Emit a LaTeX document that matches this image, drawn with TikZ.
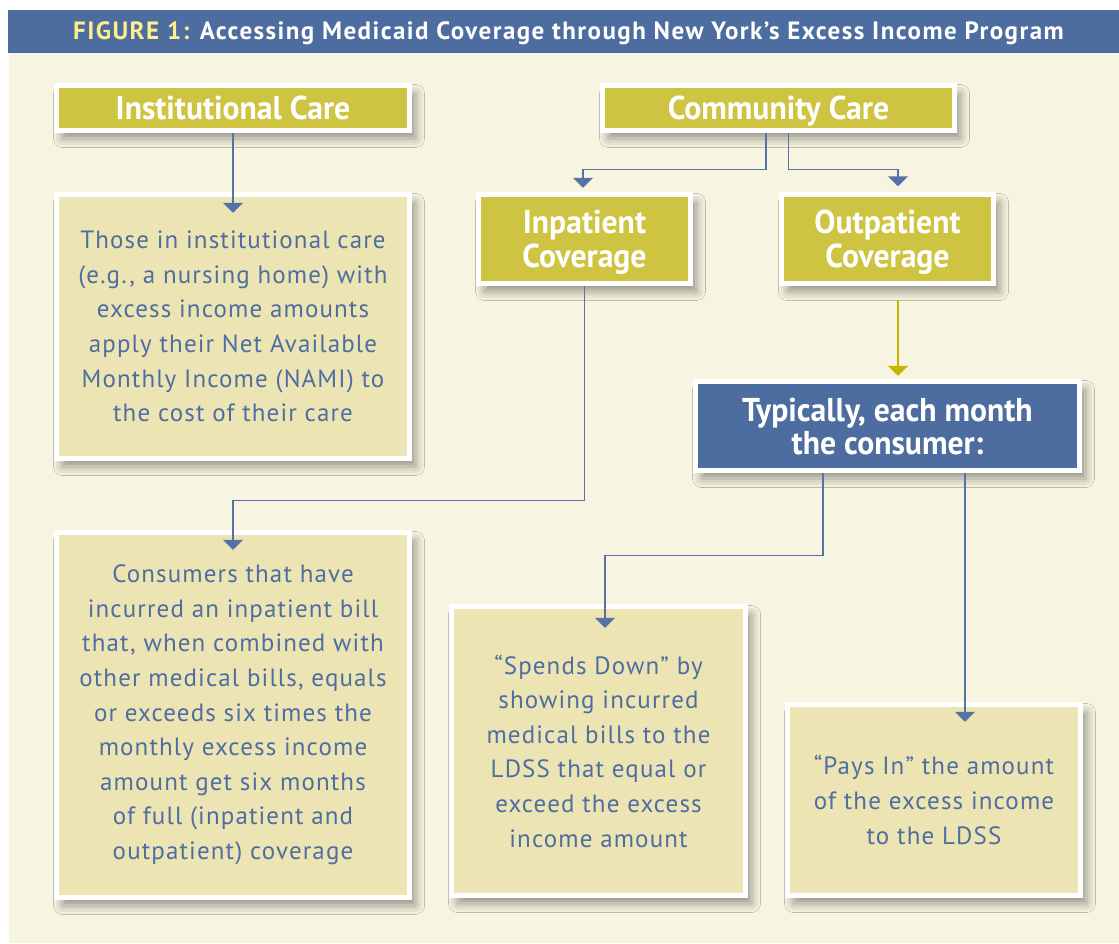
\documentclass[tikz,border=0pt]{standalone}
\usepackage{fontspec}
\setmainfont{PT Sans}
\newfontfamily\narrowfont[FakeStretch=0.96]{PT Sans}
\newfontfamily\notefont[LetterSpace=4.5]{PT Sans}
\newfontfamily\bannerfont[LetterSpace=5.8]{PT Sans}
\usetikzlibrary{arrows.meta,shadows.blur}
\definecolor{titleblue}{RGB}{77,109,160}
\definecolor{titleyellow}{RGB}{255,238,140}
\definecolor{paper}{RGB}{247,244,226}
\definecolor{olive}{RGB}{207,195,66}
\definecolor{straw}{RGB}{237,228,180}
\definecolor{inkblue}{RGB}{78,110,161}
\definecolor{lineblue}{RGB}{84,114,165}
\definecolor{arrowolive}{RGB}{200,180,0}

\begin{document}
\begin{tikzpicture}[x=1pt, y=-1pt]
  \tikzset{
    card/.style={draw=white, line width=4.5pt, inner sep=0pt, align=center,
      blur shadow={shadow xshift=6pt, shadow yshift=-8pt, shadow blur radius=9pt, shadow opacity=40}},
    heading/.style={card, fill=olive, text=white, text depth=0pt, font=\narrowfont\bfseries\fontsize{33}{34}\selectfont},
    question/.style={card, fill=titleblue, text=white, font=\narrowfont\bfseries\fontsize{33}{33}\selectfont},
    note/.style={card, fill=straw, text=inkblue, font=\notefont\fontsize{25}{34.6}\selectfont},
    link/.style={lineblue, line width=1.5pt, -{Triangle[width=20pt,length=10pt]}},
    feed/.style={arrowolive, line width=2.6pt, -{Triangle[width=20pt,length=10pt]}},
  }
  \useasboundingbox (0,0) rectangle (1119,943);

  % title bar and paper
  \fill[titleblue] (8,10) rectangle (1119,53);
  \fill[paper] (9,53) rectangle (1119,943);
  \node[text=white, font=\bannerfont\bfseries\fontsize{25}{28}\selectfont] (title) at (568.5,33)
    {\textcolor{titleyellow}{FIGURE 1:} Accessing Medicaid Coverage through New York’s Excess Income Program};

  % headings
  \node[heading, minimum width=353pt, minimum height=45pt] (inst) at (233,108) {Institutional Care};
  \node[heading, minimum width=352pt, minimum height=45pt] (comm) at (778.5,108) {Community Care};
  \node[heading, minimum width=212pt, minimum height=89pt] (inpat) at (584.5,239) {Inpatient\\Coverage};
  \node[heading, minimum width=212pt, minimum height=89pt] (outpat) at (887.5,239) {Outpatient\\Coverage};
  \node[question, minimum width=384pt, minimum height=89pt] (typ) at (887.5,426) {Typically, each month\\the consumer:};

  % notes
  \node[note, minimum width=353pt, minimum height=264pt] (instx) at (233,326.5)
    {Those in institutional care\\(e.g., a nursing home) with\\excess income amounts\\apply their Net Available\\Monthly Income (NAMI) to\\the cost of their care};
  \node[note, minimum width=353pt, minimum height=365pt] (cons) at (233,715)
    {Consumers that have\\incurred an inpatient bill\\that, when combined with\\other medical bills, equals\\or exceeds six times the\\monthly excess income\\amount get six months\\of full (inpatient and\\outpatient) coverage};
  \node[note, minimum width=294pt, minimum height=289pt] (spend) at (598.5,751)
    {“Spends Down” by\\showing incurred\\medical bills to the\\LDSS that equal or\\exceed the excess\\income amount};
  \node[note, minimum width=293pt, minimum height=191pt] (pays) at (934,800)
    {“Pays In” the amount\\of the excess income\\to the LDSS};

  % connectors
  \draw[link] (inst.south) -- ([yshift=-20.5pt]instx.north);
  \draw[link] ([xshift=-12.5pt]comm.south) -- ++(0,36.5) -| ([xshift=-1.5pt,yshift=4.5pt]inpat.north);
  \draw[link] ([xshift=10pt]comm.south) -- ++(0,36.5) -| ([xshift=10.5pt,yshift=6pt]outpat.north);
  \draw[link] (inpat.south) -- ++(0,214.5) -| ([yshift=-19.5pt]cons.north);
  \draw[feed] ([xshift=10.5pt,yshift=-14.5pt]outpat.south) -- ([xshift=10.5pt,yshift=3.5pt]typ.north);
  \draw[link] ([xshift=-64.5pt]typ.south) -- ++(0,82.5) -| ([xshift=6.5pt,yshift=-23.5pt]spend.north);
  \draw[link] ([xshift=77.5pt]typ.south) -- ([xshift=31pt,yshift=-19.5pt]pays.north);
\end{tikzpicture}
\end{document}
